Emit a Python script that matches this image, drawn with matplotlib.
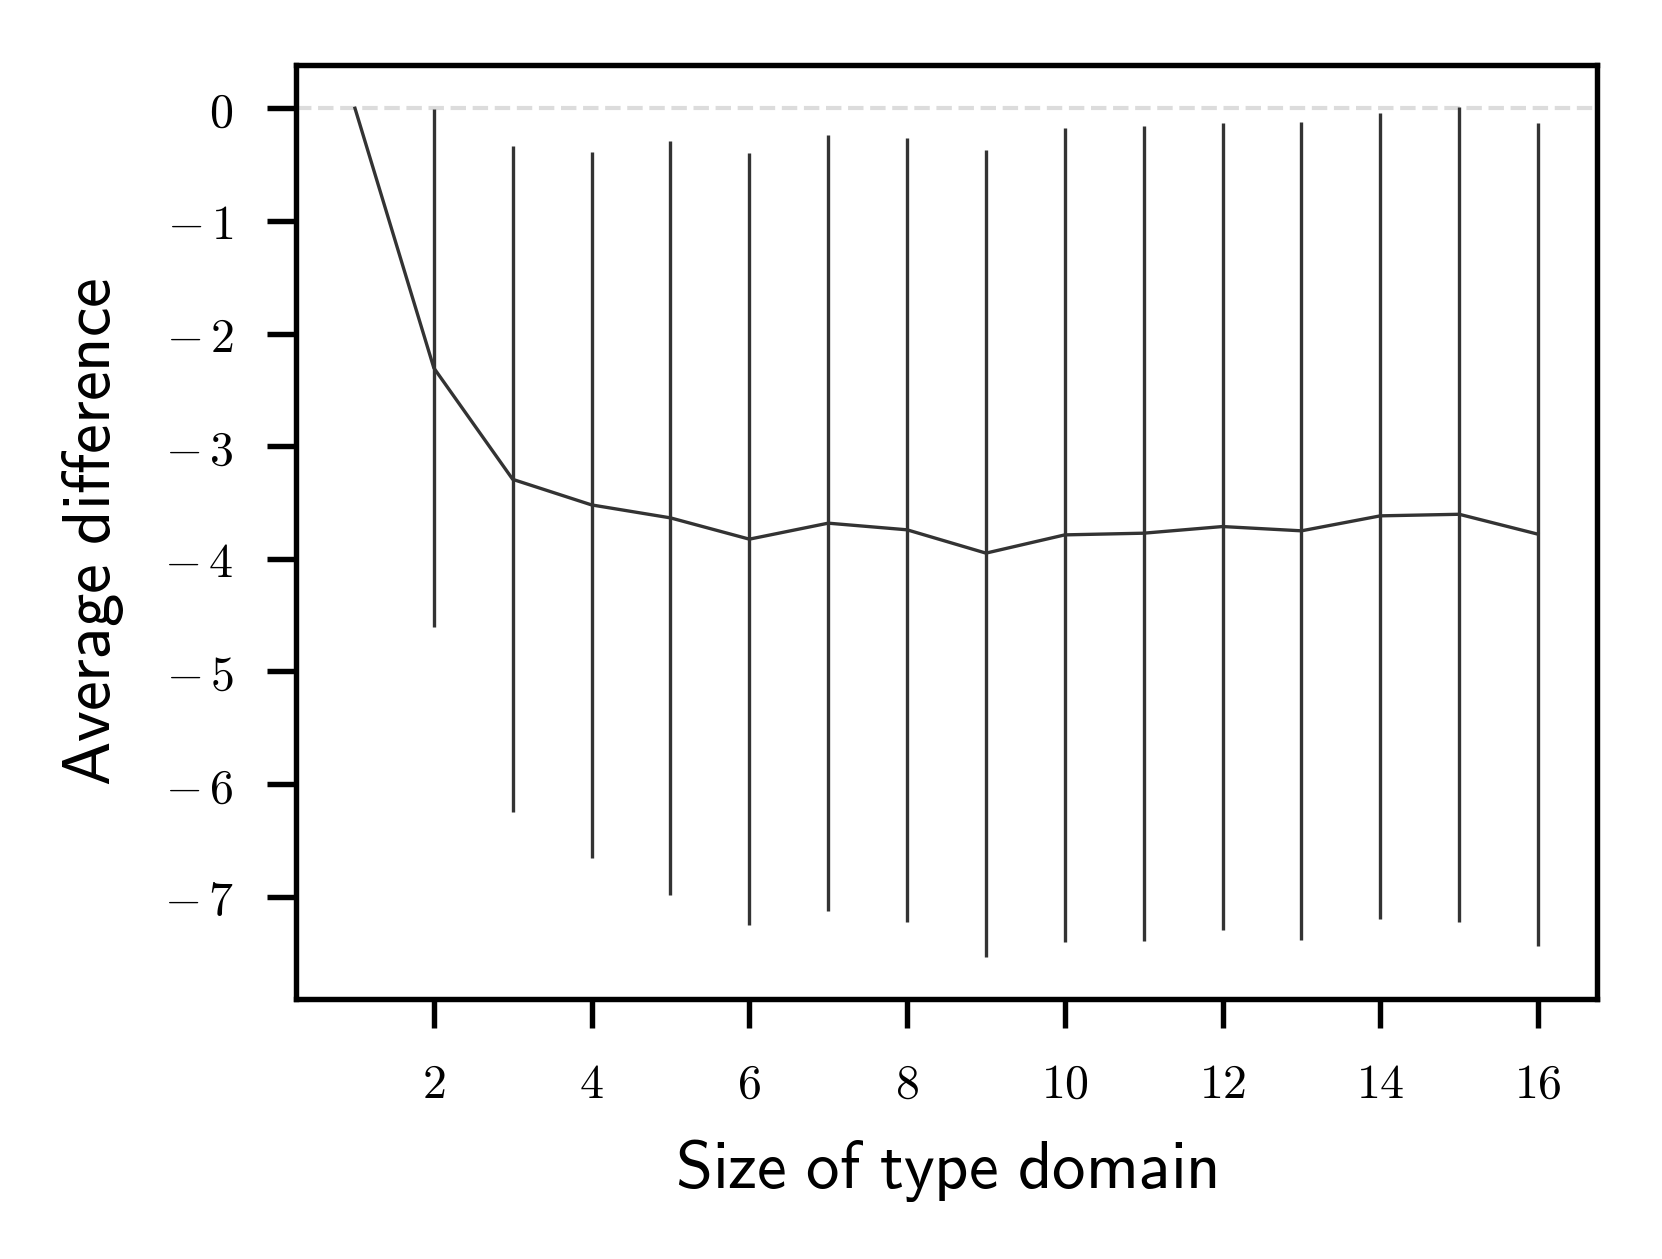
import numpy as np
import matplotlib
matplotlib.use("Agg")
import matplotlib.pyplot as plt
from matplotlib.ticker import FuncFormatter

plt.rcParams['mathtext.fontset'] = 'cm'

# size of type domain vs. average difference (mean and std dev)
domain_size = [1, 2, 3, 4, 5, 6, 7, 8, 9, 10, 11, 12, 13, 14, 15, 16]
mean_diff = [0.0, -2.306, -3.295, -3.522, -3.637, -3.826, -3.684, -3.743,
             -3.950, -3.788, -3.773, -3.714, -3.752, -3.619, -3.605, -3.782]
std_diff = [0.0, 2.30, 2.957, 3.136, 3.345, 3.425, 3.448, 3.480,
            3.582, 3.615, 3.617, 3.582, 3.631, 3.577, 3.618, 3.655]
x_ticks = [2, 4, 6, 8, 10, 12, 14, 16]
y_ticks = [0, -1, -2, -3, -4, -5, -6, -7]


def tick_fmt(v, pos):
    v = int(round(v))
    if v < 0:
        return r'$-\,%d$' % (-v)
    return r'$%d$' % v


x = np.array(domain_size)
m = np.array(mean_diff)
s = np.array(std_diff)

fig = plt.figure(figsize=(1662/300, 1259/300), dpi=300)
ax = fig.add_subplot(1, 1, 1)
fig.subplots_adjust(left=0.178, right=0.961, top=0.9486, bottom=0.2069)

ax.axhline(0, color='#dcdcdc', ls='--', lw=1.0, zorder=0)
ax.plot(x, m, color='#333333', lw=0.8)
ax.vlines(x[1:], (m - s)[1:], (m + s)[1:], color='#333333', lw=0.8)

ax.set_xlim(0.25, 16.75)
ax.set_ylim(-7.905, 0.387)
ax.set_xticks(x_ticks)
ax.set_yticks(y_ticks)
ax.xaxis.set_major_formatter(FuncFormatter(tick_fmt))
ax.yaxis.set_major_formatter(FuncFormatter(tick_fmt))
ax.tick_params(length=7, width=1.3, pad=8, labelsize=11.5, direction='out')
for sp in ax.spines.values():
    sp.set_linewidth(1.3)
    sp.set_color('black')

ax.set_xlabel(r'$\mathsf{Size\ of\ type\ domain}$', fontsize=16, labelpad=7)
ax.set_ylabel(r'$\mathsf{Average\ difference}$', fontsize=16, labelpad=9)

fig.savefig('out.png', dpi=300)
